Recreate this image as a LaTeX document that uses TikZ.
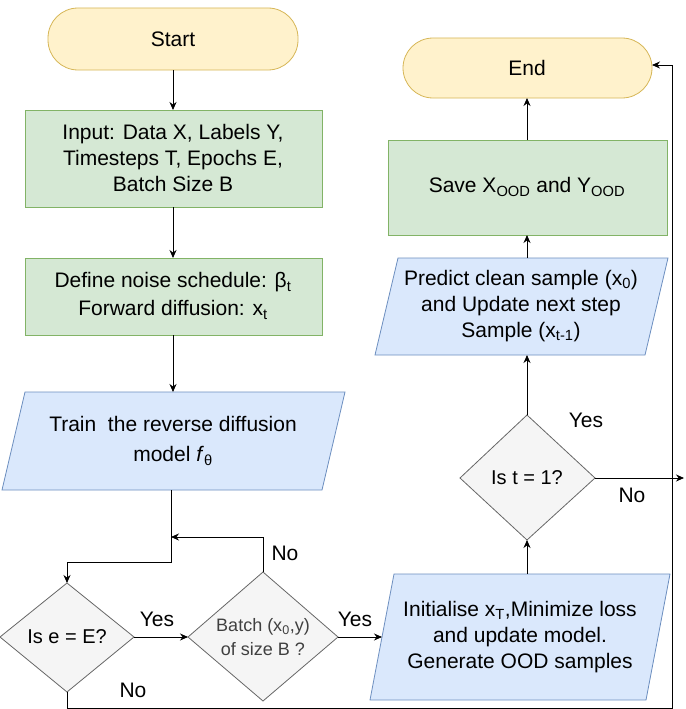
\documentclass[tikz,border=0pt]{standalone}
\usepackage{fontspec}
\setmainfont{Liberation Sans}
\usetikzlibrary{arrows.meta}
\definecolor{yf}{HTML}{FFF2CC}\definecolor{ys}{HTML}{D6B656}
\definecolor{gf}{HTML}{D5E8D4}\definecolor{gs}{HTML}{82B366}
\definecolor{bf}{HTML}{DAE8FC}\definecolor{bs}{HTML}{6C8EBF}
\definecolor{df}{HTML}{F5F5F5}\definecolor{ds}{HTML}{666666}
\newcommand{\sbs}[1]{\textsubscript{#1}}
\begin{document}
\begin{tikzpicture}[x=1pt,y=-1pt,
  txt/.style={font=\fontsize{21}{26}\selectfont,align=center},
  term/.style={draw=ys,fill=yf,rounded corners=30pt,line width=0.8pt},
  proc/.style={draw=gs,fill=gf,line width=0.8pt},
  io/.style={draw=bs,fill=bf,line width=0.8pt},
  dec/.style={draw=ds,fill=df,line width=0.8pt},
  arr/.style={-{Stealth[length=8pt,width=7pt]},line width=0.8pt},
  lab/.style={font=\fontsize{21}{26}\selectfont}]
\useasboundingbox (0,0) rectangle (685,709);
\draw[term] (48,8) rectangle (298,70);
\node[txt] (start) at (173,39) {Start};
\draw[proc] (25,110) rectangle (322,207);
\node[txt] (input) at (173,158) {Input: Data X, Labels Y,\\Timesteps T, Epochs E,\\Batch Size B};
\draw[proc] (25,258) rectangle (322,335);
\node[txt] (def) at (173,296) {Define noise schedule: β\sbs{t}\\[2pt]Forward diffusion: x\sbs{t}};
\draw[io] (25,392) -- (345,392) -- (322,490) -- (2,490) -- cycle;
\node[txt,font=\fontsize{21}{30}\selectfont] (train) at (173,441) {Train\ \ the reverse diffusion\\model \textit{f}\sbs{θ}};
\draw[dec] (67,583) -- (134,637) -- (67,692) -- (0,637) -- cycle;
\node[txt,font=\fontsize{20}{26}\selectfont] (d1) at (67,637) {Is e = E?};
\draw[dec] (263,572) -- (338,637) -- (263,701) -- (188,637) -- cycle;
\node[txt,font=\fontsize{18}{24}\selectfont,text=black!75] (d2) at (263,637) {Batch (x\sbs{0},y)\\of size B ?};
\draw[io] (394,574) -- (670,574) -- (646,700) -- (370,700) -- cycle;
\node[txt] (init) at (520,637) {Initialise x\sbs{T},Minimize loss\\and update model.\\Generate OOD samples};
\draw[dec] (527,415) -- (595,478) -- (527,540) -- (460,478) -- cycle;
\node[txt,font=\fontsize{20}{26}\selectfont] (d3) at (527,478) {Is t = 1?};
\draw[io] (398,258) -- (668,258) -- (645,355) -- (375,355) -- cycle;
\node[txt] (pred) at (521,306) {Predict clean sample (x\sbs{0})\\and Update next step\\Sample (x\sbs{t-1})};
\draw[proc] (388,140) rectangle (667,235);
\node[txt] (save) at (527,187) {Save X\sbs{OOD} and Y\sbs{OOD}};
\draw[term] (403,38) rectangle (652,98);
\node[txt] (end) at (527,68) {End};
\coordinate (startb) at (173,70); \coordinate (inputt) at (173,110);
\coordinate (inputb) at (173,207); \coordinate (deft) at (173,258);
\coordinate (defb) at (173,335); \coordinate (traint) at (173,392);
\coordinate (trainb) at (171,490); \coordinate (d1t) at (67,583);
\coordinate (d1r) at (134,637); \coordinate (d1b) at (67,692);
\coordinate (d2l) at (188,637); \coordinate (d2r) at (338,637); \coordinate (d2t) at (263,572);
\coordinate (initl) at (382,637); \coordinate (initt) at (527,574);
\coordinate (d3b) at (527,540); \coordinate (d3t) at (527,415); \coordinate (d3r) at (595,478);
\coordinate (predb) at (527,355); \coordinate (predt) at (527,258);
\coordinate (saveb) at (527,235); \coordinate (savet) at (527,140);
\coordinate (endb) at (527,98); \coordinate (endr) at (652,65);
\coordinate (merge) at (171,537);
\draw[arr] (startb) -- (inputt);
\draw[arr] (inputb) -- (deft);
\draw[arr] (defb) -- (traint);
\draw[arr] (trainb) -- (171,562) -- (67,562) -- (d1t);
\draw[arr] (d1r) -- (d2l);
\node[lab] (y1) at (157,619) {Yes};
\draw[arr] (d2t) -- (263,537) -- (merge);
\node[lab] (n2) at (285,553) {No};
\draw[arr] (d2r) -- (initl);
\node[lab] (y2) at (355,619) {Yes};
\draw[arr] (initt) -- (d3b);
\draw[arr] (d3t) -- (predb);
\node[lab] (y3) at (586,420) {Yes};
\draw[arr] (predt) -- (saveb);
\draw[arr] (savet) -- (endb);
\draw[arr] (d1b) -- (67,708) -- (672,708) -- (672,65) -- (endr);
\node[lab] (n1) at (133,690) {No};
\draw[arr] (d3r) -- (684,478);
\node[lab] (n3) at (632,495) {No};
\end{tikzpicture}
\end{document}
